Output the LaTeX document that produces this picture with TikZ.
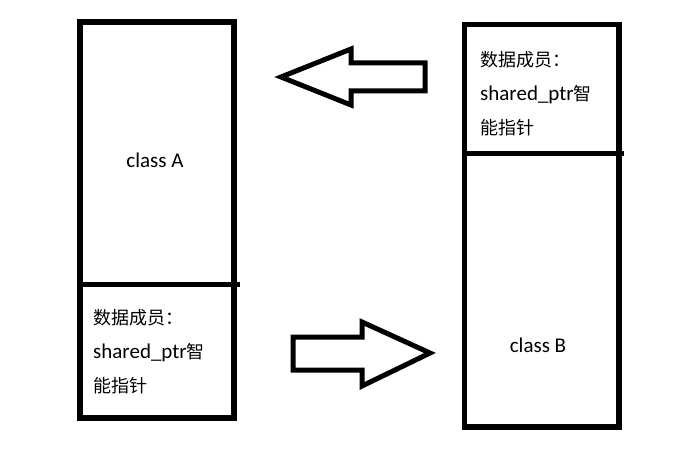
\documentclass[tikz,border=0pt]{standalone}
\usepackage{fontspec}
\usepackage{tikz}
\setmainfont{Carlito}
\newfontfamily\cjk{Noto Sans CJK SC}

\begin{document}
\begin{tikzpicture}[x=1pt,y=-1pt,
  classbox/.style={rectangle,draw,line width=5.5pt,inner sep=0pt},
  divider/.style={line width=5pt},
  blockarrow/.style={draw,line width=5pt,line join=miter},
  classname/.style={inner sep=0pt,font=\fontsize{21}{25}\selectfont},
  membertext/.style={inner sep=0pt,align=left,anchor=north west,font=\fontsize{21}{34}\selectfont}]
        \useasboundingbox (0,0) rectangle (686,452);
        % the two classes
        \node[classbox,minimum width=154,minimum height=396] (A) at (157,220) {};
        \node[classbox,minimum width=154.5,minimum height=402.5] (B) at (541.75,225.75) {};
        \draw[divider] (A.west |- 0,284) -- (240,284);
        \draw[divider] (B.west |- 0,153) -- (624,153);
        \node[classname] (nameA) at (155,160) {class A};
        \node[classname] (nameB) at (538,345) {class B};
        \node[membertext] (memA) at (93,309) {{\cjk\fontsize{18}{34}\selectfont 数据成员：}\\shared\_ptr{\cjk\fontsize{18}{34}\selectfont 智}\\{\cjk\fontsize{18}{34}\selectfont 能指针}};
        \node[membertext] (memB) at (480,51) {{\cjk\fontsize{18}{34}\selectfont 数据成员：}\\shared\_ptr{\cjk\fontsize{18}{34}\selectfont 智}\\{\cjk\fontsize{18}{34}\selectfont 能指针}};
        % block arrows
        \draw[blockarrow] (281,77) -- (351,49) -- (351,63) -- (425,63) -- (425,91) -- (351,91) -- (351,105) -- cycle;
        \draw[blockarrow] (430,353) -- (362,322) -- (362,337) -- (293,337) -- (293,370) -- (362,370) -- (362,386) -- cycle;
      \end{tikzpicture}
\end{document}
